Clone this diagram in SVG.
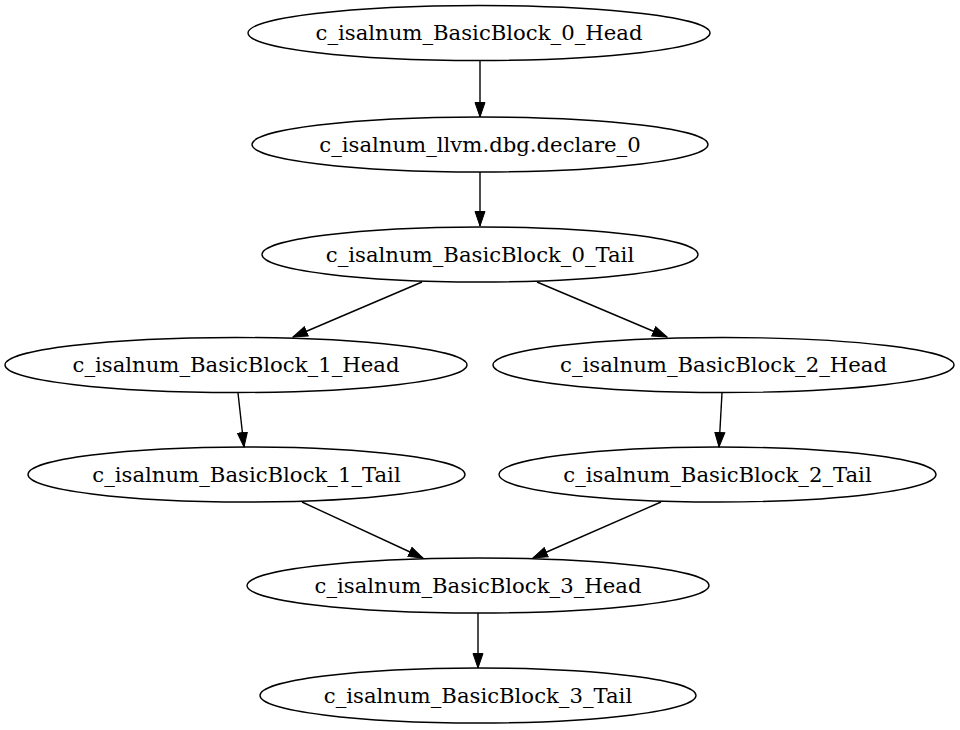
<svg xmlns="http://www.w3.org/2000/svg" width="960" height="730" viewBox="0 0 960 730">
<style>
.n ellipse{fill:none;stroke:#000;stroke-width:1.4}
.n text{font-family:"DejaVu Serif",serif;font-size:21.2px;text-anchor:middle;fill:#000}
.e line{stroke:#000;stroke-width:1.4;marker-end:url(#ah)}
</style>
<defs>
<marker id="ah" markerUnits="userSpaceOnUse" markerWidth="16" markerHeight="12" refX="15" refY="5.5" orient="auto" viewBox="0 0 16 11">
<path d="M0.5,0.5 L15,5.5 L0.5,10.5 z" fill="#000" stroke="#000" stroke-width="1"/>
</marker>
</defs>
<rect width="960" height="730" fill="#fff"/>
<g id="edges" class="e">
<line x1="480" y1="61" x2="480" y2="117"/>
<line x1="480" y1="172" x2="480" y2="226"/>
<line x1="422" y1="282" x2="293" y2="337"/>
<line x1="537" y1="282" x2="667" y2="337"/>
<line x1="238" y1="393" x2="244" y2="447"/>
<line x1="722" y1="393" x2="719" y2="447"/>
<line x1="302" y1="502" x2="423" y2="558"/>
<line x1="661" y1="502" x2="533" y2="558"/>
<line x1="478" y1="613" x2="478" y2="668"/>
</g>
<g id="bb0h" class="n"><ellipse cx="479" cy="33" rx="231" ry="27.5"/><text x="479" y="40.3">c_isalnum_BasicBlock_0_Head</text></g>
<g id="dbg" class="n"><ellipse cx="480" cy="144.5" rx="228" ry="27.5"/><text x="480" y="151.8">c_isalnum_llvm.dbg.declare_0</text></g>
<g id="bb0t" class="n"><ellipse cx="480" cy="254.5" rx="218" ry="27.5"/><text x="480" y="261.8">c_isalnum_BasicBlock_0_Tail</text></g>
<g id="bb1h" class="n"><ellipse cx="236" cy="365" rx="231" ry="27.5"/><text x="236" y="372.3">c_isalnum_BasicBlock_1_Head</text></g>
<g id="bb2h" class="n"><ellipse cx="723.5" cy="365" rx="230.5" ry="27.5"/><text x="723.5" y="372.3">c_isalnum_BasicBlock_2_Head</text></g>
<g id="bb1t" class="n"><ellipse cx="246.5" cy="474.5" rx="218.5" ry="27.5"/><text x="246.5" y="481.8">c_isalnum_BasicBlock_1_Tail</text></g>
<g id="bb2t" class="n"><ellipse cx="717.5" cy="474.5" rx="218.5" ry="27.5"/><text x="717.5" y="481.8">c_isalnum_BasicBlock_2_Tail</text></g>
<g id="bb3h" class="n"><ellipse cx="478" cy="585.5" rx="231" ry="27.5"/><text x="478" y="592.8">c_isalnum_BasicBlock_3_Head</text></g>
<g id="bb3t" class="n"><ellipse cx="478" cy="695.5" rx="218" ry="27.5"/><text x="478" y="702.8">c_isalnum_BasicBlock_3_Tail</text></g>
</svg>
